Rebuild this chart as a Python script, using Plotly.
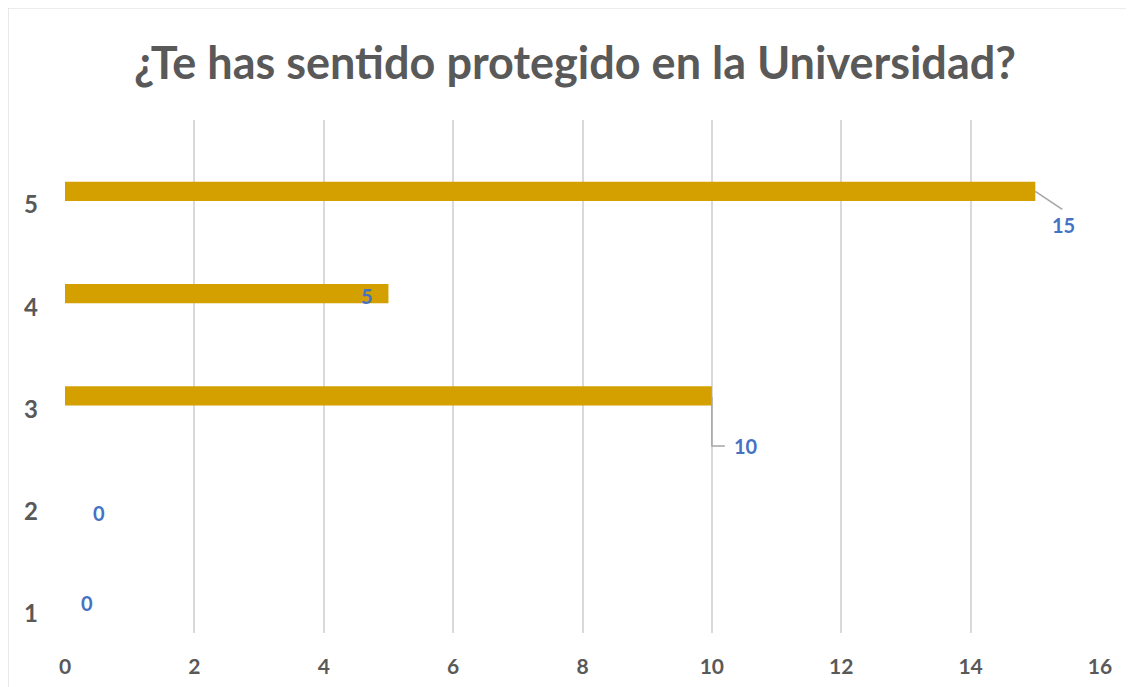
import plotly.graph_objects as go

categories = [1, 2, 3, 4, 5]
values = [0, 0, 10, 5, 15]
x_ticks = [0, 2, 4, 6, 8, 10, 12, 14, 16]

BAR = "#D4A000"
TXT = "#595959"
LBL = "#4472C4"
GRID = "#D9D9D9"

fig = go.Figure()

fig.add_trace(
    go.Bar(
        x=values,
        y=categories,
        orientation="h",
        width=0.186,
        offset=0.04,
        marker=dict(color=BAR, line=dict(width=0)),
        hoverinfo="x+y",
    )
)

bar_mid = 0.04 + 0.186 / 2

# data label positions (pixel shifts from the bar end)
label_shift = {
    1: (22, -3),
    2: (34, -15),
    3: (34, -50),
    4: (-21, -2),
    5: (28, -34),
}
for cat, val in zip(categories, values):
    dx, dy = label_shift[cat]
    fig.add_annotation(
        x=val, y=cat + bar_mid,
        text=f"<b>{val}</b>",
        showarrow=False,
        xshift=dx, yshift=dy,
        font=dict(family="Lato", size=20, color=LBL),
    )

# leader lines for the labels placed away from the bars
fig.add_shape(
    type="line", xref="x", yref="y",
    xsizemode="pixel", ysizemode="pixel",
    xanchor=values[4], yanchor=categories[4] + bar_mid,
    x0=0, y0=0, x1=27, y1=-18,
    line=dict(color="#A6A6A6", width=1.5),
)
fig.add_shape(
    type="path", xref="x", yref="y",
    xsizemode="pixel", ysizemode="pixel",
    xanchor=values[2], yanchor=categories[2] + bar_mid,
    path="M0,-1 L0,-50 L13,-50",
    line=dict(color="#A6A6A6", width=1.5),
)

# chart border (top and left edges visible); page body adds an 8px offset
fig.add_shape(
    type="rect", xref="paper", yref="paper",
    x0=-0.0551, x1=1.2, y0=-0.3, y1=1.2183,
    line=dict(color="#D9D9D9", width=1.2),
    layer="below",
)

fig.update_layout(
    width=1134,
    height=687,
    margin=dict(l=57, r=42, t=112, b=62),
    paper_bgcolor="white",
    plot_bgcolor="white",
    showlegend=False,
    title=dict(
        text="<b>¿Te has sentido protegido en la Universidad?</b>",
        x=0.5, xanchor="center",
        y=0.92, yanchor="middle",
        font=dict(family="Lato", size=45, color=TXT),
    ),
    xaxis=dict(
        range=[0, 16],
        tickvals=x_ticks,
        ticktext=[f"<b>{t}</b>" for t in x_ticks],
        showgrid=True,
        gridcolor=GRID,
        gridwidth=1.5,
        zeroline=False,
        showline=False,
        ticks="",
        ticklabelstandoff=19,
        tickfont=dict(family="Lato", size=21, color=TXT),
        fixedrange=True,
    ),
    yaxis=dict(
        range=[0.814, 5.831],
        tickvals=categories,
        ticktext=[f"<b>{c}</b>" for c in categories],
        showgrid=False,
        zeroline=False,
        showline=False,
        ticks="",
        ticklabelstandoff=26,
        tickfont=dict(family="Lato", size=24, color=TXT),
        fixedrange=True,
    ),
)

fig.write_html("out.html")
